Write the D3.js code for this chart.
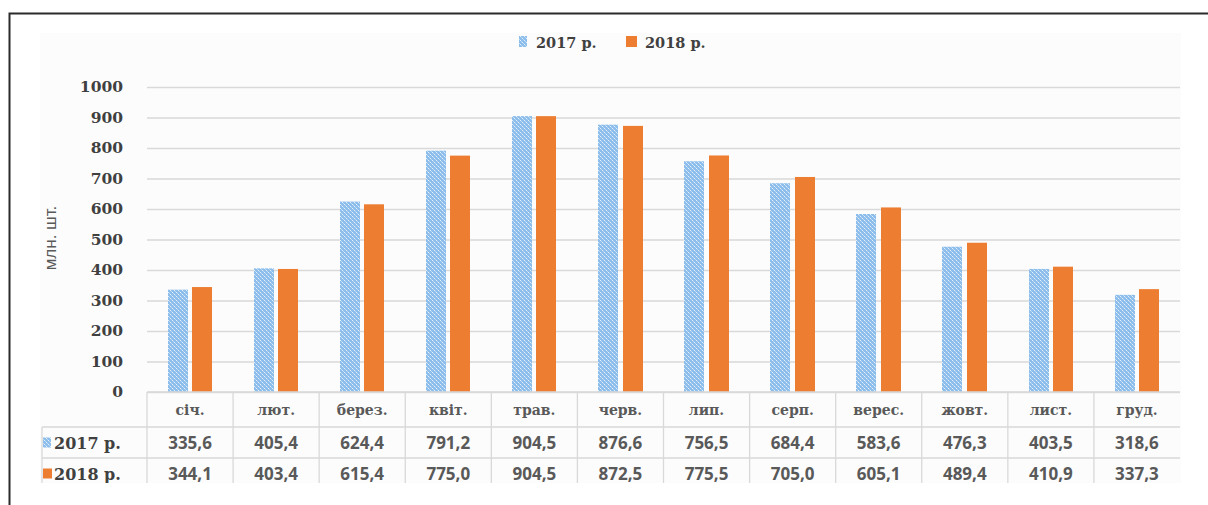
<!DOCTYPE html>
<html><head><meta charset="utf-8">
<script src="https://cdn.jsdelivr.net/npm/d3@7"></script>
<style>html,body{margin:0;padding:0;background:#fff;}svg{display:block;}</style>
</head><body>
<script>
const months = ["січ.","лют.","берез.","квіт.","трав.","черв.","лип.","серп.","верес.","жовт.","лист.","груд."];
const seriesNames = ["2017 р.","2018 р."];
const values2017 = [335.6,405.4,624.4,791.2,904.5,876.6,756.5,684.4,583.6,476.3,403.5,318.6];
const values2018 = [344.1,403.4,615.4,775.0,904.5,872.5,775.5,705.0,605.1,489.4,410.9,337.3];
const yTicks = [0,100,200,300,400,500,600,700,800,900,1000];
const yTitle = "млн. шт.";

const W = 1208, H = 505;
const svg = d3.select("body").append("svg").attr("width", W).attr("height", H);
const defs = svg.append("defs");
const pat = defs.append("pattern").attr("id","dots").attr("patternUnits","userSpaceOnUse")
  .attr("x",0).attr("y",0).attr("width",4).attr("height",4);
pat.append("rect").attr("width",4).attr("height",4).attr("fill","#8dbdea");
[[0,0],[2,2]].forEach(p=>pat.append("rect").attr("x",p[0]).attr("y",p[1]).attr("width",1).attr("height",1).attr("fill","#e4f0fa"));
[[1,1],[3,3]].forEach(p=>pat.append("rect").attr("x",p[0]).attr("y",p[1]).attr("width",1).attr("height",1).attr("fill","#b9d8f3"));
defs.append("clipPath").attr("id","clip").append("rect").attr("x",0).attr("y",0).attr("width",1181).attr("height",483);

const colors = ["url(#dots)","#ed7d31"];
const series = [values2017, values2018];

// frame
svg.append("path").attr("d",`M9.5,${H} V13.5 H${W}`).attr("fill","none").attr("stroke","#2b2b2b").attr("stroke-width",2);

const g = svg.append("g").attr("clip-path","url(#clip)");
g.append("rect").attr("x",40).attr("y",33).attr("width",1141).attr("height",450).attr("fill","#fcfcfc");

const x = d3.scaleBand().domain(months).range([147,1180]);
const xs = d3.scaleBand().domain(seriesNames).range([0,x.bandwidth()]).paddingInner(0.17).paddingOuter(0.85);
const y = d3.scaleLinear().domain([0,1000]).range([392,87]);

// gridlines
const yAxis = d3.axisLeft(y).tickValues(yTicks).tickSize(-(1180-147)).tickFormat(d=>d).tickPadding(24);
const ya = g.append("g").attr("transform","translate(147,0)").call(yAxis);
ya.select(".domain").remove();
ya.selectAll(".tick line").attr("stroke","#d9d9d9").attr("stroke-width",1.3);
ya.selectAll(".tick text").attr("font-family","DejaVu Serif").attr("font-weight","bold")
  .attr("font-size",15.5).attr("fill","#404040");

// bars
seriesNames.forEach((s,i)=>{
  g.append("g").selectAll("rect").data(series[i]).join("rect")
    .attr("x",(d,j)=>Math.round(x(months[j])+xs(s)))
    .attr("width",Math.round(xs.bandwidth()))
    .attr("y",d=>y(d))
    .attr("height",d=>y(0)-y(d))
    .attr("fill",colors[i]);
});

// y title
g.append("text").attr("transform","translate(56,238) rotate(-90)").attr("text-anchor","middle")
  .attr("font-family","Liberation Sans").attr("font-size",17).attr("fill","#595959").text(yTitle);

// data table
const rowY = [392,427,458,489];
const grid = "#d9d9d9";
g.append("line").attr("x1",147).attr("x2",1180).attr("y1",rowY[0]).attr("y2",rowY[0]).attr("stroke",grid).attr("stroke-width",1.3);
[rowY[1],rowY[2]].forEach(yy=>g.append("line").attr("x1",42).attr("x2",1180).attr("y1",yy).attr("y2",yy).attr("stroke",grid).attr("stroke-width",1.3));
g.append("line").attr("x1",42).attr("x2",42).attr("y1",rowY[1]).attr("y2",rowY[3]).attr("stroke",grid).attr("stroke-width",1.3);
months.forEach(m=>{
  g.append("line").attr("x1",x(m)).attr("x2",x(m)).attr("y1",rowY[0]).attr("y2",rowY[3]).attr("stroke",grid).attr("stroke-width",1.3);
});
g.append("g").selectAll("text").data(months).join("text")
  .attr("x",m=>x(m)+x.bandwidth()/2).attr("y",(rowY[0]+rowY[1])/2+5).attr("text-anchor","middle")
  .attr("font-family","DejaVu Serif").attr("font-weight","bold").attr("font-size",14).attr("fill","#595959")
  .text(m=>m);
series.forEach((vals,i)=>{
  const cy = (rowY[i+1]+rowY[i+2])/2;
  g.append("g").selectAll("text").data(vals).join("text")
    .attr("x",(d,j)=>x(months[j])+x.bandwidth()/2).attr("y",cy+6).attr("text-anchor","middle")
    .attr("font-family","Open Sans").attr("font-weight","bold").attr("font-size",17).attr("fill","#595959")
    .text(d=>d.toFixed(1).replace(".",","));
  g.append("rect").attr("x",43).attr("y",cy-5).attr("width",i===0?8:9).attr("height",10).attr("fill",colors[i]);
  g.append("text").attr("x",54).attr("y",cy+6).attr("font-family","DejaVu Serif").attr("font-weight","bold")
    .attr("font-size",16).attr("fill","#404040").text(seriesNames[i]);
});

// legend
const leg = g.append("g");
const legX = [519,626];
seriesNames.forEach((s,i)=>{
  leg.append("rect").attr("x",legX[i]).attr("y",36).attr("width",i===0?8:11).attr("height",11).attr("fill",colors[i]);
  leg.append("text").attr("x",legX[i]+(i===0?17:19)).attr("y",47.5).attr("font-family","DejaVu Serif").attr("font-weight","bold")
    .attr("font-size",14.5).attr("fill","#404040").text(s);
});
</script>
</body></html>
